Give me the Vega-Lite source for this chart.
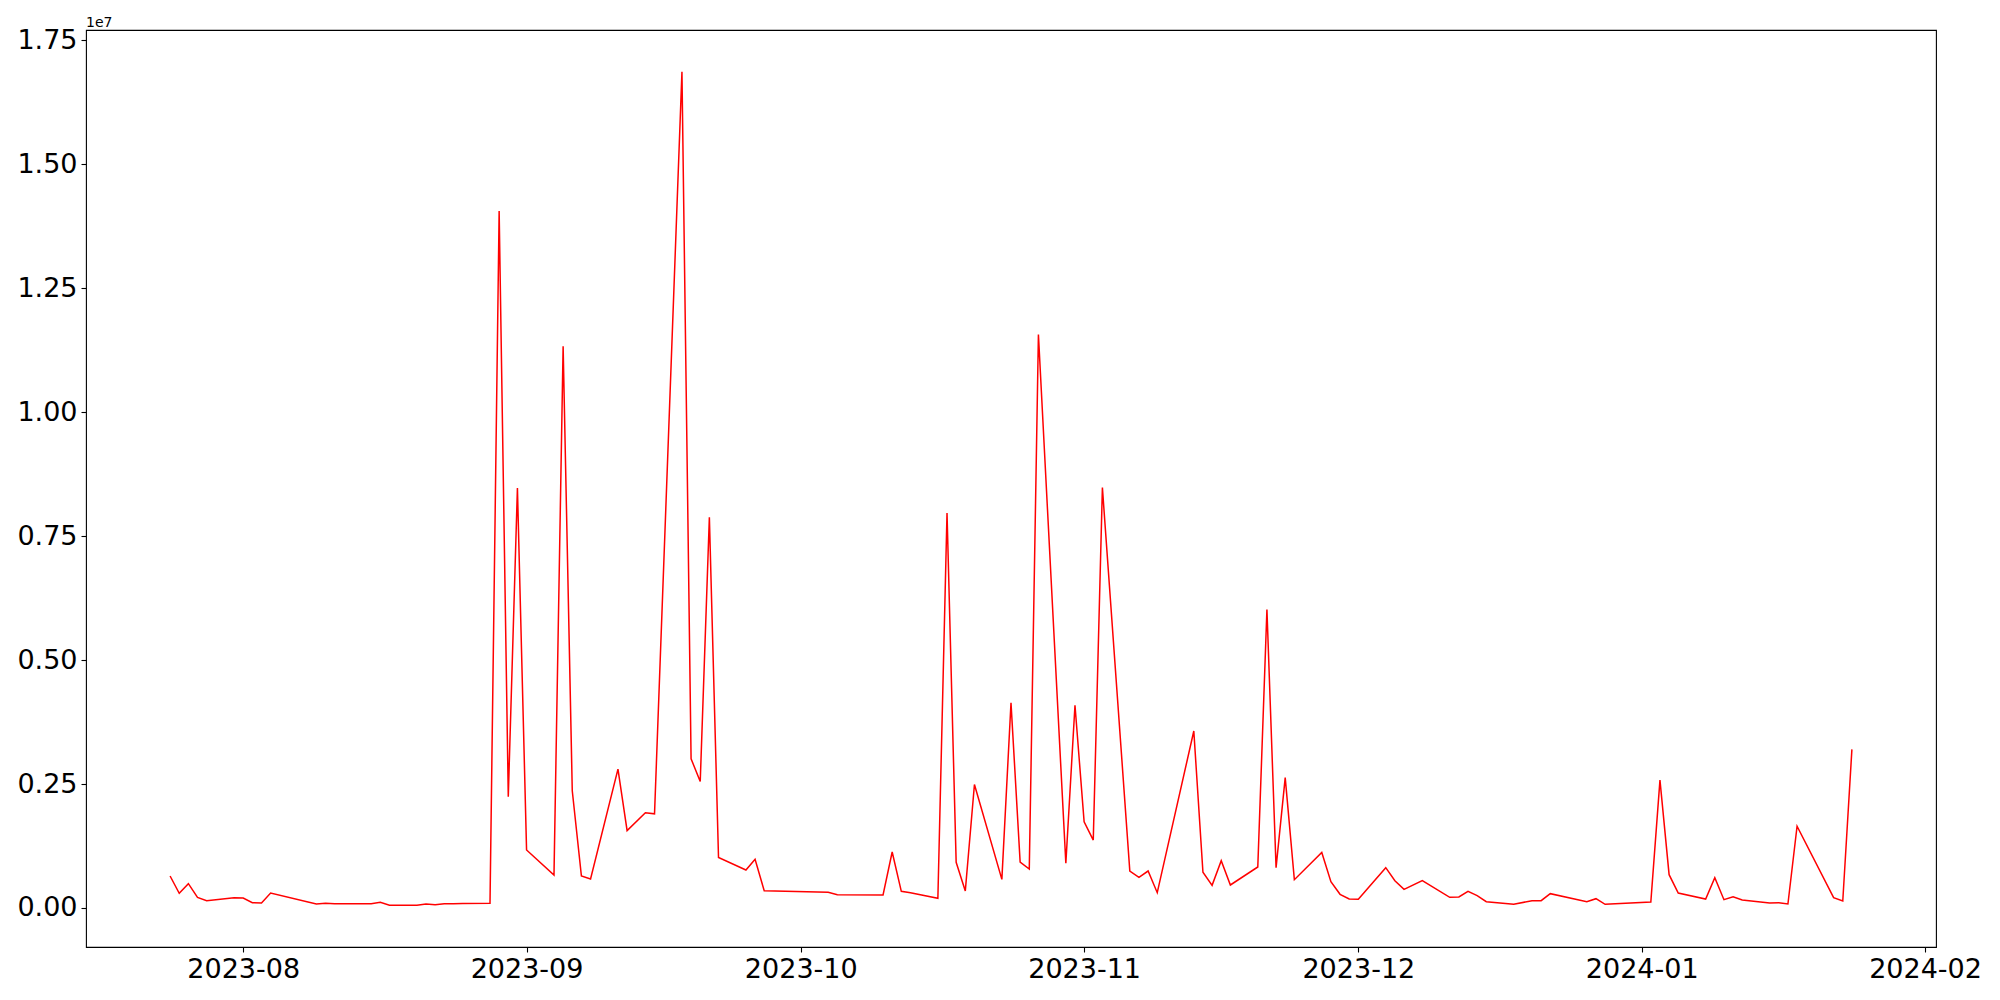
{
  "$schema": "https://vega.github.io/schema/vega-lite/v6.json",
  "autosize": {"type": "none"},
  "padding": {"left": 86, "top": 30, "right": 64, "bottom": 53},
  "width": 1850,
  "height": 917,
  "background": "white",
  "config": {
    "font": "DejaVu Sans",
    "view": {"stroke": "black", "strokeWidth": 1.1},
    "axis": {
      "grid": false,
      "domain": false,
      "tickColor": "black",
      "tickSize": 5,
      "tickWidth": 1.1,
      "labelColor": "black",
      "labelFont": "DejaVu Sans",
      "labelFontSize": 27,
      "labelPadding": 4,
      "title": null
    }
  },
  "title": {
    "text": "1e7",
    "anchor": "start",
    "frame": "group",
    "fontSize": 14,
    "fontWeight": "normal",
    "font": "DejaVu Sans",
    "color": "black",
    "baseline": "alphabetic",
    "offset": 4,
    "dy": 19
  },
  "data": {
    "values": [
      {"date": "2023-07-24", "value": 645000},
      {"date": "2023-07-25", "value": 296000},
      {"date": "2023-07-26", "value": 490000},
      {"date": "2023-07-27", "value": 215000},
      {"date": "2023-07-28", "value": 148000},
      {"date": "2023-07-31", "value": 208000},
      {"date": "2023-08-01", "value": 200000},
      {"date": "2023-08-02", "value": 107000},
      {"date": "2023-08-03", "value": 103000},
      {"date": "2023-08-04", "value": 302000},
      {"date": "2023-08-09", "value": 80000},
      {"date": "2023-08-10", "value": 94000},
      {"date": "2023-08-11", "value": 86000},
      {"date": "2023-08-14", "value": 87000},
      {"date": "2023-08-15", "value": 88000},
      {"date": "2023-08-16", "value": 114000},
      {"date": "2023-08-17", "value": 54000},
      {"date": "2023-08-18", "value": 55000},
      {"date": "2023-08-20", "value": 56000},
      {"date": "2023-08-21", "value": 80000},
      {"date": "2023-08-22", "value": 65000},
      {"date": "2023-08-23", "value": 87000},
      {"date": "2023-08-24", "value": 88000},
      {"date": "2023-08-25", "value": 89000},
      {"date": "2023-08-28", "value": 94000},
      {"date": "2023-08-29", "value": 14060000},
      {"date": "2023-08-30", "value": 2244000},
      {"date": "2023-08-31", "value": 8470000},
      {"date": "2023-09-01", "value": 1170000},
      {"date": "2023-09-04", "value": 665000},
      {"date": "2023-09-05", "value": 11330000},
      {"date": "2023-09-06", "value": 2365000},
      {"date": "2023-09-07", "value": 645000},
      {"date": "2023-09-08", "value": 585000},
      {"date": "2023-09-11", "value": 2800000},
      {"date": "2023-09-12", "value": 1560000},
      {"date": "2023-09-14", "value": 1920000},
      {"date": "2023-09-15", "value": 1900000},
      {"date": "2023-09-18", "value": 16870000},
      {"date": "2023-09-19", "value": 3010000},
      {"date": "2023-09-20", "value": 2550000},
      {"date": "2023-09-21", "value": 7880000},
      {"date": "2023-09-22", "value": 1020000},
      {"date": "2023-09-25", "value": 766000},
      {"date": "2023-09-26", "value": 982000},
      {"date": "2023-09-27", "value": 349000},
      {"date": "2023-10-04", "value": 318000},
      {"date": "2023-10-05", "value": 268000},
      {"date": "2023-10-10", "value": 262000},
      {"date": "2023-10-11", "value": 1130000},
      {"date": "2023-10-12", "value": 336000},
      {"date": "2023-10-13", "value": 309000},
      {"date": "2023-10-16", "value": 195000},
      {"date": "2023-10-17", "value": 7970000},
      {"date": "2023-10-18", "value": 921000},
      {"date": "2023-10-19", "value": 343000},
      {"date": "2023-10-20", "value": 2490000},
      {"date": "2023-10-23", "value": 578000},
      {"date": "2023-10-24", "value": 4140000},
      {"date": "2023-10-25", "value": 927000},
      {"date": "2023-10-26", "value": 786000},
      {"date": "2023-10-27", "value": 11570000},
      {"date": "2023-10-30", "value": 901000},
      {"date": "2023-10-31", "value": 4090000},
      {"date": "2023-11-01", "value": 1740000},
      {"date": "2023-11-02", "value": 1370000},
      {"date": "2023-11-03", "value": 8480000},
      {"date": "2023-11-06", "value": 746000},
      {"date": "2023-11-07", "value": 618000},
      {"date": "2023-11-08", "value": 746000},
      {"date": "2023-11-09", "value": 309000},
      {"date": "2023-11-13", "value": 3570000},
      {"date": "2023-11-14", "value": 720000},
      {"date": "2023-11-15", "value": 457000},
      {"date": "2023-11-16", "value": 954000},
      {"date": "2023-11-17", "value": 464000},
      {"date": "2023-11-20", "value": 827000},
      {"date": "2023-11-21", "value": 6020000},
      {"date": "2023-11-22", "value": 813000},
      {"date": "2023-11-23", "value": 2630000},
      {"date": "2023-11-24", "value": 571000},
      {"date": "2023-11-27", "value": 1120000},
      {"date": "2023-11-28", "value": 530000},
      {"date": "2023-11-29", "value": 276000},
      {"date": "2023-11-30", "value": 181000},
      {"date": "2023-12-01", "value": 175000},
      {"date": "2023-12-04", "value": 813000},
      {"date": "2023-12-05", "value": 551000},
      {"date": "2023-12-06", "value": 376000},
      {"date": "2023-12-08", "value": 551000},
      {"date": "2023-12-11", "value": 215000},
      {"date": "2023-12-12", "value": 222000},
      {"date": "2023-12-13", "value": 336000},
      {"date": "2023-12-14", "value": 249000},
      {"date": "2023-12-15", "value": 128000},
      {"date": "2023-12-18", "value": 74000},
      {"date": "2023-12-20", "value": 148000},
      {"date": "2023-12-21", "value": 148000},
      {"date": "2023-12-22", "value": 289000},
      {"date": "2023-12-26", "value": 128000},
      {"date": "2023-12-27", "value": 188000},
      {"date": "2023-12-28", "value": 74000},
      {"date": "2024-01-02", "value": 121000},
      {"date": "2024-01-03", "value": 2580000},
      {"date": "2024-01-04", "value": 672000},
      {"date": "2024-01-05", "value": 302000},
      {"date": "2024-01-08", "value": 181000},
      {"date": "2024-01-09", "value": 611000},
      {"date": "2024-01-10", "value": 168000},
      {"date": "2024-01-11", "value": 228000},
      {"date": "2024-01-12", "value": 161000},
      {"date": "2024-01-15", "value": 101000},
      {"date": "2024-01-16", "value": 107000},
      {"date": "2024-01-17", "value": 81000},
      {"date": "2024-01-18", "value": 1650000},
      {"date": "2024-01-22", "value": 208000},
      {"date": "2024-01-23", "value": 141000},
      {"date": "2024-01-24", "value": 3200000}
    ]
  },
  "mark": {"type": "line", "color": "#ff0000", "strokeWidth": 1.5, "clip": true},
  "encoding": {
    "x": {
      "field": "date",
      "type": "temporal",
      "scale": {
        "type": "utc",
        "domain": [
          {"year": 2023, "month": 7, "date": 14, "hours": 19, "minutes": 12, "utc": true},
          {"year": 2024, "month": 2, "date": 2, "hours": 4, "minutes": 48, "utc": true}
        ],
        "nice": false
      },
      "axis": {
        "format": "%Y-%m",
        "values": [
          {"year": 2023, "month": 8, "date": 1, "utc": true},
          {"year": 2023, "month": 9, "date": 1, "utc": true},
          {"year": 2023, "month": 10, "date": 1, "utc": true},
          {"year": 2023, "month": 11, "date": 1, "utc": true},
          {"year": 2023, "month": 12, "date": 1, "utc": true},
          {"year": 2024, "month": 1, "date": 1, "utc": true},
          {"year": 2024, "month": 2, "date": 1, "utc": true}
        ],
        "labelFlush": false,
        "labelOverlap": false
      }
    },
    "y": {
      "field": "value",
      "type": "quantitative",
      "scale": {"domain": [-786800, 17711000], "nice": false, "zero": false},
      "axis": {
        "values": [0, 2500000, 5000000, 7500000, 10000000, 12500000, 15000000, 17500000],
        "labelExpr": "format(datum.value / 10000000, '.2f')",
        "labelFlush": false,
        "labelOverlap": false
      }
    }
  }
}
